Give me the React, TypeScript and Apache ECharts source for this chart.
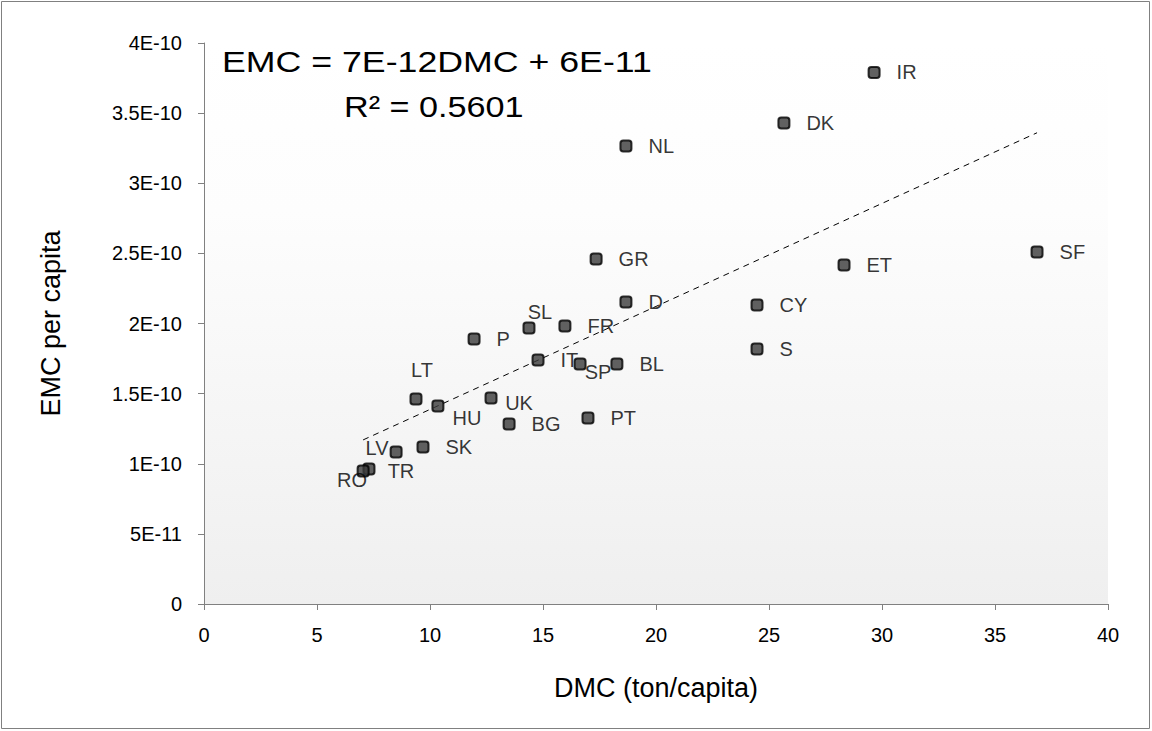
import React, { useEffect, useRef } from "react";
import * as echarts from "echarts";

const countries = ["IR", "DK", "NL", "SF", "GR", "ET", "D", "CY", "SL", "FR", "P", "S", "IT", "SP", "BL", "LT", "HU", "UK", "PT", "BG", "SK", "LV", "TR", "RO"];
const dmc = [29.65, 25.66, 18.67, 36.86, 17.35, 28.32, 18.67, 24.47, 14.38, 15.97, 11.95, 24.47, 14.78, 16.64, 18.27, 9.38, 10.35, 12.7, 16.99, 13.5, 9.69, 8.5, 7.3, 7.04];
const emc = [3.79e-10, 3.43e-10, 3.266e-10, 2.51e-10, 2.46e-10, 2.417e-10, 2.153e-10, 2.132e-10, 1.968e-10, 1.982e-10, 1.89e-10, 1.818e-10, 1.74e-10, 1.711e-10, 1.711e-10, 1.462e-10, 1.412e-10, 1.469e-10, 1.326e-10, 1.283e-10, 1.119e-10, 1.084e-10, 0.963e-10, 0.948e-10];
const trendX = [7.04, 36.86];
const trendY = [1.17e-10, 3.36e-10];
const yTickLabels = ["0", "5E-11", "1E-10", "1.5E-10", "2E-10", "2.5E-10", "3E-10", "3.5E-10", "4E-10"];
const equationText = "EMC = 7E-12DMC + 6E-11";
const r2Text = "R\u00B2 = 0.5601";

// label placement tweaks (offset of label centre from point centre)
const labelOffsets: Record<string, [number, number]> = {
  SL: [11, -16],
  LT: [6, -29],
  HU: [29, 12],
  UK: [28, 5],
  SP: [18, 8],
  LV: [-19, -4],
  TR: [32, 2],
  RO: [-11, 9],
};

const FONT = "'Liberation Sans', Arial, sans-serif";

export default function App() {
  const ref = useRef<HTMLDivElement>(null);
  useEffect(() => {
    document.body.style.margin = "0";
    if (!ref.current) return;
    const chart = echarts.init(ref.current, null, { renderer: "svg" });
    const points = countries.map((c, i) => {
      const off = labelOffsets[c];
      const item: any = { name: c, value: [dmc[i], emc[i]] };
      if (off) {
        item.label = { position: "inside", offset: off, distance: 0 };
      }
      return item;
    });
    chart.setOption({
      animation: false,
      backgroundColor: "#ffffff",
      textStyle: { fontFamily: FONT },
      grid: {
        left: 204,
        right: 44,
        top: 43,
        bottom: 127,
        show: true,
        borderWidth: 0,
        backgroundColor: new echarts.graphic.LinearGradient(0, 0, 0, 1, [
          { offset: 0, color: "#ffffff" },
          { offset: 0.3, color: "#fdfdfd" },
          { offset: 1, color: "#efefef" },
        ]),
      },
      xAxis: {
        type: "value",
        min: 0,
        max: 40,
        interval: 5,
        name: "DMC (ton/capita)",
        nameLocation: "middle",
        nameGap: 70,
        nameTextStyle: { fontSize: 27, color: "#000", fontFamily: FONT },
        axisLine: { show: true, lineStyle: { color: "#808080", width: 1 } },
        axisTick: { show: true, length: 6, lineStyle: { color: "#808080" } },
        axisLabel: { fontSize: 20, color: "#000", margin: 21, fontFamily: FONT },
        splitLine: { show: false },
      },
      yAxis: {
        type: "value",
        min: 0,
        max: 4e-10,
        interval: 5e-11,
        name: "EMC per capita",
        nameLocation: "middle",
        nameGap: 140,
        nameTextStyle: { fontSize: 27, color: "#000", fontFamily: FONT },
        axisLine: { show: true, lineStyle: { color: "#808080", width: 1 } },
        axisTick: { show: true, length: 6, lineStyle: { color: "#808080" } },
        axisLabel: {
          fontSize: 20,
          color: "#000",
          margin: 22,
          fontFamily: FONT,
          formatter: (v: number) => yTickLabels[Math.round(v / 5e-11)] ?? "",
        },
        splitLine: { show: false },
      },
      series: [
        {
          type: "line",
          data: trendX.map((x, i) => [x, trendY[i]]),
          symbol: "none",
          lineStyle: { color: "#000", width: 1, type: [6, 5] },
          silent: true,
          z: 1,
        },
        {
          type: "scatter",
          data: points,
          symbol: "roundRect",
          symbolSize: 11,
          itemStyle: { color: "#3a3a3a", borderColor: "#000", borderWidth: 2 },
          label: {
            show: true,
            position: "right",
            distance: 16,
            formatter: "{b}",
            fontSize: 20,
            color: "#000",
            fontFamily: FONT,
          },
          z: 3,
        },
      ],
      graphic: [
        {
          type: "rect",
          shape: { x: 1.5, y: 1.5, width: 1148, height: 727 },
          style: { fill: "none", stroke: "#808080", lineWidth: 1 },
          silent: true,
        },
        {
          type: "text",
          x: 222,
          y: 62,
          scaleX: 1.19,
          style: {
            text: equationText,
            font: `30px ${FONT}`,
            fill: "#000",
            verticalAlign: "middle",
          },
        },
        {
          type: "text",
          x: 344,
          y: 107,
          scaleX: 1.14,
          style: {
            text: r2Text,
            font: `30px ${FONT}`,
            fill: "#000",
            verticalAlign: "middle",
          },
        },
      ],
    });
    return () => chart.dispose();
  }, []);
  return <div ref={ref} style={{ width: 1152, height: 731 }} />;
}
